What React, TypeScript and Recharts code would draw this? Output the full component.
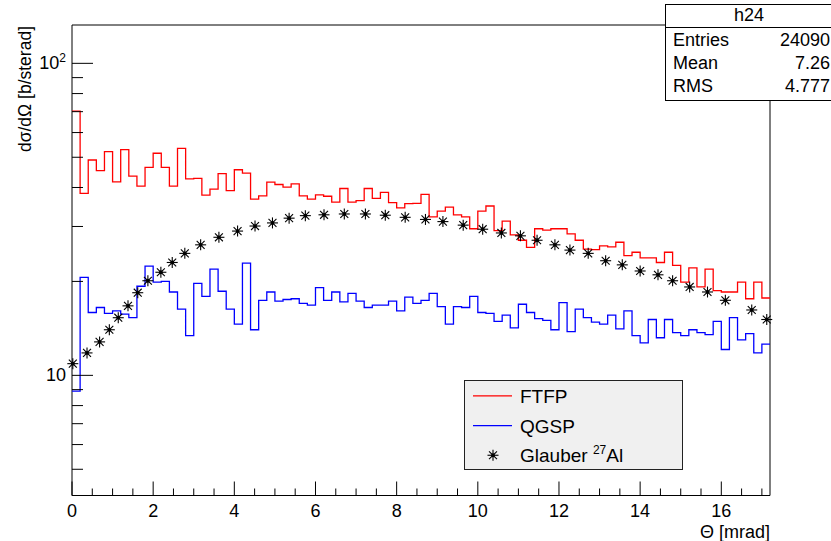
import React from 'react';
import { ComposedChart, Line, Scatter, XAxis, YAxis, ReferenceArea } from 'recharts';

// histogram binning and axis ranges
const BIN_WIDTH = 0.2;
const X_MIN = 0;
const X_MAX = 17.2;
const Y_MIN = 4.12;
const Y_MAX = 132.7;

// dσ/dΩ per 0.2 mrad bin, starting at Θ = 0
const ftfpValues = [
  70.3, 38.3, 49.0, 45.3, 52.1, 41.7, 52.9, 43.5, 40.4, 46.4,
  51.5, 46.4, 40.4, 53.4, 42.6, 42.8, 37.8, 39.5, 44.3, 39.1,
  45.6, 44.5, 36.7, 37.6, 41.6, 40.9, 40.1, 41.1, 37.6, 36.7,
  37.9, 37.5, 35.9, 39.7, 35.9, 36.3, 39.7, 36.9, 38.6, 35.8,
  34.4, 35.5, 35.6, 38.0, 32.2, 33.6, 34.6, 32.7, 32.2, 29.5,
  33.6, 34.9, 29.1, 31.2, 28.2, 27.1, 25.7, 29.5, 29.2, 29.5,
  29.5, 28.4, 27.1, 25.4, 25.3, 26.0, 25.8, 26.7, 24.2, 24.8,
  23.8, 23.8, 23.0, 24.8, 22.5, 19.9, 22.1, 19.2, 21.9, 18.7,
  18.5, 18.5, 19.9, 17.6, 19.9, 17.7,
];

const qgspValues = [
  8.9, 20.6, 15.9, 16.5, 15.8, 16.1, 15.7, 15.3, 19.3, 22.4,
  19.9, 20.0, 18.5, 16.3, 13.4, 19.7, 17.9, 21.9, 18.6, 16.3,
  14.6, 22.9, 14.0, 17.4, 18.5, 17.3, 17.5, 17.6, 17.0, 16.8,
  19.1, 17.4, 18.5, 17.2, 18.3, 17.3, 16.5, 16.8, 16.8, 17.3,
  16.1, 17.8, 17.0, 17.4, 18.3, 16.6, 14.6, 16.6, 16.5, 17.9,
  15.9, 15.8, 14.9, 15.6, 14.2, 16.9, 15.9, 15.2, 15.0, 14.0,
  17.1, 13.8, 16.3, 15.3, 14.8, 14.6, 15.6, 14.1, 16.1, 13.4,
  12.7, 15.1, 13.2, 15.1, 13.7, 13.4, 14.0, 13.7, 13.5, 14.9,
  12.1, 15.3, 13.0, 13.6, 11.8, 12.6,
];

// Glauber calculation for 27Al
const glauberTheta = [
  0.02, 0.37, 0.68, 0.92, 1.14, 1.38, 1.62, 1.87, 2.19, 2.47,
  2.78, 3.17, 3.62, 4.08, 4.51, 4.94, 5.35, 5.75, 6.21, 6.71,
  7.23, 7.72, 8.21, 8.71, 9.14, 9.64, 10.12, 10.58, 11.05, 11.46,
  11.9, 12.27, 12.72, 13.15, 13.56, 14.0, 14.44, 14.8, 15.22, 15.66,
  16.1, 16.75, 17.12,
];
const glauberSigma = [
  10.9, 11.8, 12.8, 14.0, 15.3, 16.7, 18.4, 20.1, 21.4, 23.0,
  24.6, 26.2, 27.7, 29.0, 30.1, 30.8, 31.9, 32.5, 32.7, 32.9,
  32.9, 32.6, 32.1, 31.6, 31.1, 30.3, 29.4, 28.6, 28.0, 27.1,
  26.2, 25.2, 24.6, 23.3, 22.6, 21.6, 21.0, 20.1, 19.2, 18.5,
  17.4, 16.2, 15.1,
];

const xTicks = Array.from({ length: 35 }, (_, i) => i * 0.5);
const yTicks = [5, 6, 7, 8, 9, 10, 20, 30, 40, 50, 60, 70, 80, 90, 100];

const statsRows = [
  ['Entries', '24090'],
  ['Mean', '7.26'],
  ['RMS', '4.777'],
];

const FONT = '"Liberation Sans", Arial, Helvetica, sans-serif';
const MARKER_R = 5.5;

// turn bin contents into step points (left edges + closing edge)
const toSteps = (values: number[]) => {
  const pts = values.map((v, i) => ({ theta: +(X_MIN + i * BIN_WIDTH).toFixed(2), sigma: v }));
  pts.push({ theta: +(X_MIN + values.length * BIN_WIDTH).toFixed(2), sigma: values[values.length - 1] });
  return pts;
};

const ftfpData = toSteps(ftfpValues);
const qgspData = toSteps(qgspValues);
const glauberData = glauberTheta.map((t, i) => ({ theta: t, sigma: glauberSigma[i] }));

const renderXTick = (props: any) => {
  const { x, y, payload } = props;
  const major = Math.abs(payload.value % 2) < 1e-6;
  return (
    <g key={`xt-${payload.value}`}>
      <line x1={x} x2={x} y1={y} y2={y - (major ? 14 : 7)} stroke="#000" strokeWidth={1} />
      {major && (
        <text x={x} y={y + 21} textAnchor="middle" fontSize={18} fontFamily={FONT} fill="#000">
          {payload.value}
        </text>
      )}
    </g>
  );
};

const renderYTick = (props: any) => {
  const { x, y, payload } = props;
  const v = payload.value;
  const major = v === 10 || v === 100;
  return (
    <g key={`yt-${v}`}>
      <line x1={x} x2={x + (major ? 21 : 11)} y1={y} y2={y} stroke="#000" strokeWidth={1} />
      {v === 10 && (
        <text x={x - 6} y={y + 6} textAnchor="end" fontSize={18} fontFamily={FONT} fill="#000">10</text>
      )}
      {v === 100 && (
        <text x={x - 6} y={y + 6} textAnchor="end" fontSize={18} fontFamily={FONT} fill="#000">
          10<tspan dy={-7} fontSize={12}>2</tspan>
        </text>
      )}
    </g>
  );
};

// ROOT style asterisk marker
const Asterisk = ({ cx, cy }: any) => {
  const r = MARKER_R;
  const d = r * 0.72;
  return (
    <g stroke="#000" strokeWidth={1.1}>
      <line x1={cx - r} x2={cx + r} y1={cy} y2={cy} />
      <line x1={cx} x2={cx} y1={cy - r} y2={cy + r} />
      <line x1={cx - d} x2={cx + d} y1={cy - d} y2={cy + d} />
      <line x1={cx - d} x2={cx + d} y1={cy + d} y2={cy - d} />
      <circle cx={cx} cy={cy} r={1.9} fill="#000" stroke="none" />
    </g>
  );
};

const StatsBox = () => (
  <div
    style={{
      position: 'absolute', left: 665, top: 4, width: 170, height: 95,
      background: '#fff', border: '1px solid #000', fontFamily: FONT, fontSize: 18, color: '#000',
    }}
  >
    <div style={{ height: 22, lineHeight: '20px', textAlign: 'center', borderBottom: '1px solid #000', paddingRight: 4 }}>h24</div>
    {statsRows.map(([k, v]) => (
      <div key={k} style={{ display: 'flex', justifyContent: 'space-between', height: 23, lineHeight: '24px', paddingLeft: 7, width: 157 }}>
        <span>{k}</span>
        <span>{v}</span>
      </div>
    ))}
  </div>
);

const LegendBox = () => {
  const rowH = 29.7;
  return (
    <svg
      width={219}
      height={90}
      style={{ position: 'absolute', left: 464, top: 380, overflow: 'visible' }}
    >
      <rect x={0.5} y={0.5} width={218} height={89} fill="#f0f0f0" stroke="#222" />
      <line x1={9} x2={48} y1={rowH * 0.5 + 1} y2={rowH * 0.5 + 1} stroke="#ff0000" strokeWidth={1.2} />
      <text x={56} y={rowH * 0.5 + 8} fontSize={19} fontFamily={FONT} fill="#000">FTFP</text>
      <line x1={9} x2={48} y1={rowH * 1.5 + 1} y2={rowH * 1.5 + 1} stroke="#0000ff" strokeWidth={1.2} />
      <text x={56} y={rowH * 1.5 + 8} fontSize={19} fontFamily={FONT} fill="#000">QGSP</text>
      <Asterisk cx={29} cy={rowH * 2.5 + 1} />
      <text x={56} y={rowH * 2.5 + 8} fontSize={19} fontFamily={FONT} fill="#000">
        Glauber <tspan dy={-8} fontSize={12}>27</tspan><tspan dy={8}>Al</tspan>
      </text>
    </svg>
  );
};

const AxisTitles = () => (
  <svg width={831} height={541} style={{ position: 'absolute', left: 0, top: 0, pointerEvents: 'none' }}>
    <text x={770} y={538} textAnchor="end" fontSize={18} fontFamily={FONT} fill="#000">Θ [mrad]</text>
    <text
      x={31}
      y={26}
      transform="rotate(-90 31 26)"
      textAnchor="end"
      fontSize={17.5}
      fontFamily={FONT}
      fill="#000"
    >
      dσ/dΩ [b/sterad]
    </text>
  </svg>
);

const App: React.FC = () => {
  return (
    <div
      style={{
        position: 'absolute', left: 0, top: 0, width: 831, height: 541,
        background: '#fff', overflow: 'hidden',
      }}
    >
      <ComposedChart width={831} height={541} margin={{ top: 25, right: 61, bottom: 5.5, left: 12 }}>
        <XAxis
          dataKey="theta"
          type="number"
          domain={[X_MIN, X_MAX]}
          ticks={xTicks}
          interval={0}
          height={40}
          tickSize={0}
          tickMargin={0}
          axisLine={false}
          tickLine={false}
          tick={renderXTick}
        />
        <YAxis
          dataKey="sigma"
          type="number"
          scale="log"
          domain={[Y_MIN, Y_MAX]}
          ticks={yTicks}
          interval={0}
          width={60}
          tickSize={0}
          tickMargin={0}
          axisLine={false}
          tickLine={false}
          tick={renderYTick}
        />
        <ReferenceArea x1={X_MIN} x2={X_MAX} y1={Y_MIN} y2={Y_MAX} fill="none" stroke="#000" strokeWidth={1} fillOpacity={0} />
        <Line
          data={ftfpData}
          dataKey="sigma"
          type="stepAfter"
          stroke="#ff0000"
          strokeWidth={1.3}
          dot={false}
          activeDot={false}
          isAnimationActive={false}
        />
        <Line
          data={qgspData}
          dataKey="sigma"
          type="stepAfter"
          stroke="#0000ff"
          strokeWidth={1.3}
          dot={false}
          activeDot={false}
          isAnimationActive={false}
        />
        <Scatter data={glauberData} dataKey="sigma" shape={<Asterisk />} isAnimationActive={false} />
      </ComposedChart>
      <AxisTitles />
      <StatsBox />
      <LegendBox />
    </div>
  );
};

export default App;
